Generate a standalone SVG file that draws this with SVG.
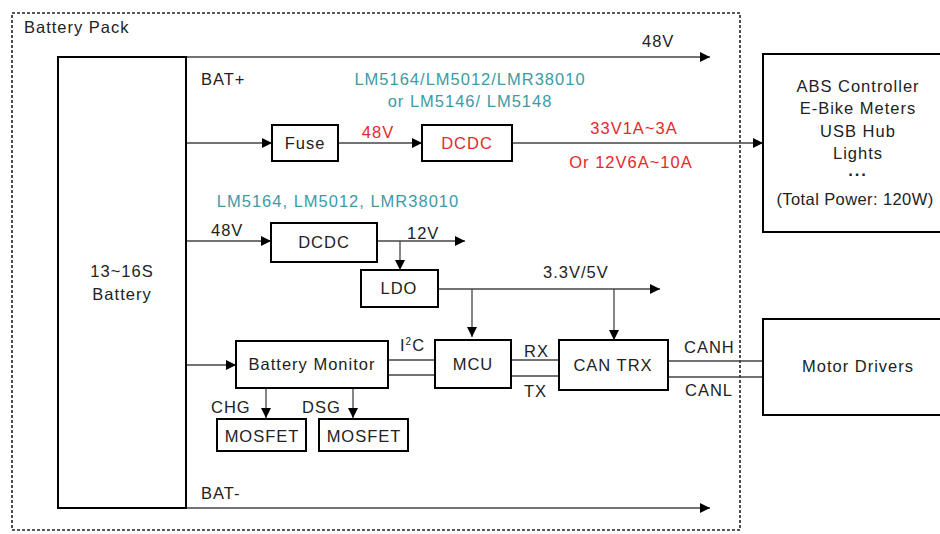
<svg xmlns="http://www.w3.org/2000/svg" width="940" height="534" viewBox="0 0 940 534">
<defs>
<marker id="ah" viewBox="0 0 10 10" refX="10" refY="5" markerWidth="10" markerHeight="10" markerUnits="userSpaceOnUse" orient="auto"><path d="M0,0 L10,5 L0,10 Z" fill="#000"/></marker>
<style>
text{font-family:"Liberation Sans",Arial,sans-serif;font-size:16.5px;letter-spacing:1px;fill:#222}
.box{fill:#fff;stroke:#000;stroke-width:2}
.ln{fill:none;stroke:#444;stroke-width:1.3}
.arr{fill:none;stroke:#444;stroke-width:1.3;marker-end:url(#ah)}
.c{text-anchor:middle}
.red{fill:#e8262b}
.teal{fill:#3d9aa6}
</style>
</defs>
<rect width="940" height="534" fill="#fff"/>
<g id="battery-pack">
<rect x="12" y="13" width="728" height="517" fill="none" stroke="#222" stroke-width="1.6" stroke-dasharray="3,2"/>
<text x="24" y="33">Battery Pack</text>
</g>
<g id="connectors">
<path class="arr" d="M186,57 H710"/>
<path class="arr" d="M186,508 H710"/>
<path class="arr" d="M186,143 H272"/>
<path class="arr" d="M338,143 H422"/>
<path class="arr" d="M512,143 H763"/>
<path class="arr" d="M186,241 H271"/>
<path class="arr" d="M377,241 H465"/>
<path class="arr" d="M400,241 V270"/>
<path class="arr" d="M438,289 H660"/>
<path class="arr" d="M472,289 V337"/>
<path class="arr" d="M614,289 V340"/>
<path class="arr" d="M186,365 H236"/>
<path class="ln" d="M388,360 H435 M388,375 H435"/>
<path class="ln" d="M511,360 H559 M511,376 H559"/>
<path class="ln" d="M668,361 H763 M668,377 H763"/>
<path class="arr" d="M266,388 V418"/>
<path class="arr" d="M353,388 V418"/>
</g>
<g id="battery"><rect class="box" x="58" y="57" width="128" height="451"/><text class="c" x="122" y="277">13~16S</text><text class="c" x="122" y="300">Battery</text></g>
<g id="fuse"><rect class="box" x="272" y="125" width="66" height="36"/><text class="c" x="305" y="149">Fuse</text></g>
<g id="dcdc1"><rect class="box" x="422" y="125" width="90" height="36"/><text class="c red" x="467" y="149">DCDC</text></g>
<g id="loads"><rect class="box" x="763" y="54" width="190" height="178"/>
<text class="c" x="858" y="92">ABS Controller</text><text class="c" x="858" y="114">E-Bike Meters</text><text class="c" x="858" y="137">USB Hub</text><text class="c" x="858" y="159">Lights</text><text class="c" x="858" y="180" font-weight="bold">···</text><text class="c" x="855" y="205" style="letter-spacing:0.4px">(Total Power: 120W)</text></g>
<g id="dcdc2"><rect class="box" x="271" y="223" width="106" height="39"/><text class="c" x="324" y="248">DCDC</text></g>
<g id="ldo"><rect class="box" x="361" y="270" width="77" height="37"/><text class="c" x="399" y="294">LDO</text></g>
<g id="bms"><rect class="box" x="236" y="341" width="152" height="47"/><text class="c" x="312" y="370">Battery Monitor</text></g>
<g id="mcu"><rect class="box" x="435" y="340" width="76" height="48"/><text class="c" x="473" y="370">MCU</text></g>
<g id="cantrx"><rect class="box" x="559" y="340" width="109" height="50"/><text class="c" x="613" y="371">CAN TRX</text></g>
<g id="motor"><rect class="box" x="763" y="319" width="190" height="96"/><text class="c" x="858" y="372">Motor Drivers</text></g>
<g id="mosfet1"><rect class="box" x="217" y="419" width="89" height="32"/><text class="c" x="262" y="442">MOSFET</text></g>
<g id="mosfet2"><rect class="box" x="319" y="419" width="89" height="32"/><text class="c" x="364" y="442">MOSFET</text></g>
<g id="labels">
<text x="642" y="47">48V</text>
<text x="201" y="85">BAT+</text>
<text x="201" y="499">BAT-</text>
<text class="c teal" x="470" y="85">LM5164/LM5012/LMR38010</text>
<text class="c teal" x="470" y="107">or LM5146/ LM5148</text>
<text class="c red" x="378" y="138">48V</text>
<text class="c red" x="634" y="134">33V1A~3A</text>
<text class="c red" x="631" y="168">Or 12V6A~10A</text>
<text class="c teal" x="338" y="207">LM5164, LM5012, LMR38010</text>
<text x="211" y="236">48V</text>
<text x="407" y="239">12V</text>
<text x="543" y="278">3.3V/5V</text>
<text x="400" y="351">I<tspan font-size="10" dy="-6">2</tspan><tspan dy="6">C</tspan></text>
<text x="524" y="357">RX</text>
<text x="524" y="397">TX</text>
<text x="684" y="353">CANH</text>
<text x="685" y="396">CANL</text>
<text x="211" y="413">CHG</text>
<text x="302" y="413">DSG</text>
</g>
</svg>
